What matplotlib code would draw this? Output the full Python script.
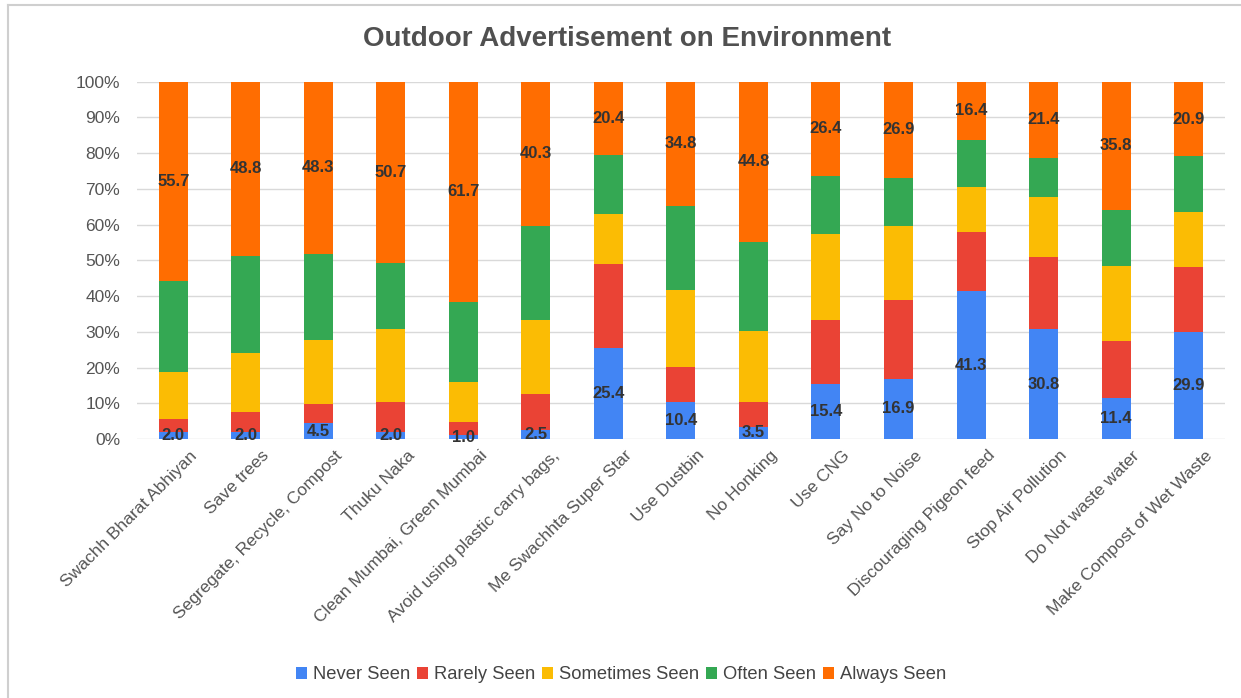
import numpy as np
import matplotlib.pyplot as plt
import matplotlib.transforms as mtransforms
from matplotlib.lines import Line2D
from matplotlib.ticker import PercentFormatter

plt.rcParams['font.family'] = ['Liberation Sans', 'DejaVu Sans']

# slogans shown on outdoor hoardings
categories = ['Swachh Bharat Abhiyan', 'Save trees', 'Segregate, Recycle, Compost',
              'Thuku Naka', 'Clean Mumbai, Green Mumbai', 'Avoid using plastic carry bags,',
              'Me Swachhta Super Star', 'Use Dustbin', 'No Honking', 'Use CNG',
              'Say No to Noise', 'Discouraging Pigeon feed', 'Stop Air Pollution',
              'Do Not waste water', 'Make Compost of Wet Waste']

# share of respondents (%) per response
never_seen = [2.0, 2.0, 4.5, 2.0, 1.0, 2.5, 25.4, 10.4, 3.5, 15.4, 16.9, 41.3, 30.8, 11.4, 29.9]
rarely_seen = [3.7, 5.7, 5.3, 8.3, 3.9, 10.2, 23.5, 9.8, 6.8, 17.8, 21.9, 16.6, 20.2, 15.9, 18.3]
sometimes_seen = [13.0, 16.4, 18.0, 20.4, 11.0, 20.5, 14.2, 21.5, 19.9, 24.1, 20.7, 12.7, 16.6, 21.2, 15.4]
often_seen = [25.6, 27.1, 23.9, 18.6, 22.4, 26.5, 16.5, 23.5, 25.0, 16.3, 13.6, 13.0, 11.0, 15.7, 15.5]
always_seen = [55.7, 48.8, 48.3, 50.7, 61.7, 40.3, 20.4, 34.8, 44.8, 26.4, 26.9, 16.4, 21.4, 35.8, 20.9]

series = [('Never Seen', never_seen, '#4285F4', True),
          ('Rarely Seen', rarely_seen, '#EA4335', False),
          ('Sometimes Seen', sometimes_seen, '#FBBC04', False),
          ('Often Seen', often_seen, '#34A853', False),
          ('Always Seen', always_seen, '#FF6D01', True)]

fig = plt.figure(figsize=(12.41, 6.98), dpi=100)
ax = fig.add_axes([0.1104, 0.371, 0.8766, 0.512])

x = np.arange(len(categories))
bottom = np.zeros(len(categories))
for name, vals, color, labelled in series:
    vals = np.array(vals)
    bars = ax.bar(x, vals, 0.4, bottom=bottom, color=color, label=name, zorder=2)
    if labelled:
        ax.bar_label(bars, labels=[f'{v:.1f}' for v in vals], label_type='center',
                     fontsize=12, fontweight='bold', color='#333333')
    bottom += vals

ax.set_xlim(-0.5, 14.5)
ax.set_ylim(0, 100)
ax.set_yticks(np.arange(0, 101, 10))
ax.yaxis.set_major_formatter(PercentFormatter(decimals=0))
ax.grid(axis='y', color='#d9d9d9', linewidth=1, zorder=0)
for s in ax.spines.values():
    s.set_visible(False)
ax.tick_params(axis='both', length=0, labelsize=12.5, labelcolor='#555555')
ax.tick_params(axis='y', pad=12)
ax.set_xticks(x)
ax.set_xticklabels(categories, rotation=45, ha='right', rotation_mode='anchor')

# nudge the slanted labels so they end just right of each bar
shift = mtransforms.ScaledTranslation(0.16, -0.04, fig.dpi_scale_trans)
for lbl in ax.get_xticklabels():
    lbl.set_transform(lbl.get_transform() + shift)

fig.text(0.505, 0.944, 'Outdoor Advertisement on Environment', ha='center', va='center',
         fontsize=20, fontweight='bold', color='#505050')

ax.legend(loc='center', bbox_to_anchor=(0.445, -0.66), ncol=5, frameon=False,
          fontsize=13.2, labelcolor='#444444', handlelength=0.6, handleheight=0.6,
          handletextpad=0.3, columnspacing=0.4)

# frame around the chart
fig.add_artist(Line2D([0.0065, 1.0], [0.993, 0.993], color='#cfcfcf', linewidth=1.5))
fig.add_artist(Line2D([0.0065, 0.0065], [0.0, 0.993], color='#cfcfcf', linewidth=1.5))

fig.savefig('out.png', dpi=100, facecolor='white')
